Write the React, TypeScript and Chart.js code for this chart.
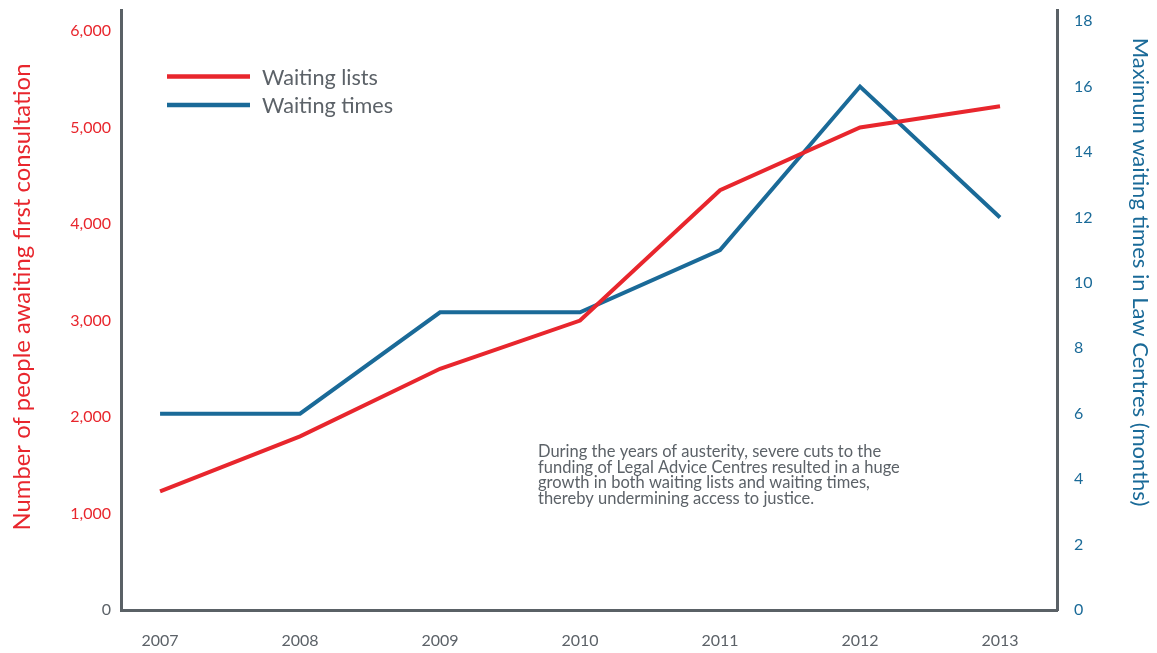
import React, { useEffect, useRef } from "react";
import { Chart, registerables } from "chart.js";

Chart.register(...registerables);

const years = [2007, 2008, 2009, 2010, 2011, 2012, 2013];
const waitingLists = [1230, 1800, 2500, 3000, 4350, 5000, 5220];
const waitingTimes = [6, 6, 9.1, 9.1, 11, 16, 12];
const leftTicks = [0, 1000, 2000, 3000, 4000, 5000, 6000];
const rightTicks = [0, 2, 4, 6, 8, 10, 12, 14, 16, 18];
const seriesNames = ["Waiting lists", "Waiting times"];
const leftTitle = "Number of people awaiting first consultation";
const rightTitle = "Maximum waiting times in Law Centres (months)";
const noteLines = [
  "During the years of austerity, severe cuts to the",
  "funding of Legal Advice Centres resulted in a huge",
  "growth in both waiting lists and waiting times,",
  "thereby undermining access to justice.",
];

const RED = "#e8262d";
const BLUE = "#1a6a98";
const GRAY = "#5c6268";
const AXIS = "#5a6166";
const FAMILY = "Lato, 'Open Sans', sans-serif";

function fitSize(ctx: CanvasRenderingContext2D, text: string, target: number) {
  ctx.font = `100px ${FAMILY}`;
  const w = ctx.measureText(text).width;
  return (100 * target) / w;
}

const overlayPlugin = {
  id: "overlay",
  afterDraw(chart: any) {
    const ctx: CanvasRenderingContext2D = chart.ctx;
    ctx.save();
    let s = fitSize(ctx, leftTitle, 467);
    ctx.font = `${s}px ${FAMILY}`;
    ctx.fillStyle = RED;
    ctx.textAlign = "center";
    ctx.textBaseline = "middle";
    ctx.save();
    ctx.translate(22, 297);
    ctx.rotate(-Math.PI / 2);
    ctx.fillText(leftTitle, 0, 0);
    ctx.restore();

    s = fitSize(ctx, rightTitle, 469);
    ctx.font = `${s}px ${FAMILY}`;
    ctx.fillStyle = BLUE;
    ctx.save();
    ctx.translate(1140, 272);
    ctx.rotate(Math.PI / 2);
    ctx.fillText(rightTitle, 0, 0);
    ctx.restore();

    const colors = [RED, BLUE];
    const ys = [76.5, 105];
    s = fitSize(ctx, seriesNames[0], 116);
    ctx.textAlign = "left";
    ctx.textBaseline = "middle";
    for (let i = 0; i < 2; i++) {
      ctx.strokeStyle = colors[i];
      ctx.lineWidth = 4.5;
      ctx.lineCap = "butt";
      ctx.beginPath();
      ctx.moveTo(167, ys[i]);
      ctx.lineTo(250, ys[i]);
      ctx.stroke();
      ctx.font = `${s}px ${FAMILY}`;
      ctx.fillStyle = GRAY;
      ctx.fillText(seriesNames[i], 262, ys[i] + 1.5);
    }

    s = fitSize(ctx, noteLines[1], 362);
    ctx.font = `${s}px ${FAMILY}`;
    ctx.fillStyle = GRAY;
    ctx.textBaseline = "alphabetic";
    const baselines = [457, 472.5, 488, 503.5];
    noteLines.forEach((t, i) => ctx.fillText(t, 538, baselines[i]));
    ctx.restore();
  },
};

export default function App() {
  const ref = useRef<HTMLCanvasElement | null>(null);
  useEffect(() => {
    if (!ref.current) return;
    const chart = new Chart(ref.current, {
      type: "line",
      data: {
        datasets: [
          {
            label: seriesNames[0],
            data: years.map((y, i) => ({ x: y, y: waitingLists[i] })),
            borderColor: RED,
            backgroundColor: RED,
            borderWidth: 4,
            pointRadius: 0,
            tension: 0,
            borderJoinStyle: "miter",
            yAxisID: "y",
          },
          {
            label: seriesNames[1],
            data: years.map((y, i) => ({ x: y, y: waitingTimes[i] })),
            borderColor: BLUE,
            backgroundColor: BLUE,
            borderWidth: 4,
            pointRadius: 0,
            tension: 0,
            borderJoinStyle: "miter",
            yAxisID: "y1",
          },
        ],
      },
      options: {
        animation: false,
        responsive: true,
        maintainAspectRatio: false,
        layout: { padding: { top: 10, left: 0, right: 0, bottom: 0 } },
        plugins: {
          legend: { display: false },
          tooltip: { enabled: false },
          title: { display: false },
        },
        scales: {
          x: {
            type: "linear",
            min: 2006.721,
            max: 2013.407,
            afterBuildTicks: (sc: any) => {
              sc.ticks = years.map((v) => ({ value: v }));
            },
            afterFit: (sc: any) => {
              sc.height = 43;
              sc.paddingLeft = 0;
              sc.paddingRight = 0;
            },
            ticks: {
              callback: (v: any) => String(v),
              color: GRAY,
              font: { family: FAMILY, size: 16 },
              padding: 21,
              autoSkip: false,
              maxRotation: 0,
            },
            grid: { display: false, drawTicks: false },
            border: { display: true, color: AXIS, width: 3 },
          },
          y: {
            type: "linear",
            position: "left",
            min: 0,
            max: 6218,
            afterBuildTicks: (sc: any) => {
              sc.ticks = leftTicks.map((v) => ({ value: v }));
            },
            afterFit: (sc: any) => {
              sc.width = 121;
              sc.paddingTop = 0;
              sc.paddingBottom = 0;
            },
            ticks: {
              callback: (v: any) => Number(v).toLocaleString("en-US"),
              color: (c: any) => (c.tick && c.tick.value === 0 ? GRAY : RED),
              font: { family: FAMILY, size: 16 },
              padding: 10,
            },
            grid: { display: false, drawTicks: false },
            border: { display: true, color: AXIS, width: 3 },
          },
          y1: {
            type: "linear",
            position: "right",
            min: 0,
            max: 18.34,
            afterBuildTicks: (sc: any) => {
              sc.ticks = rightTicks.map((v) => ({ value: v }));
            },
            afterFit: (sc: any) => {
              sc.width = 100;
              sc.paddingTop = 0;
              sc.paddingBottom = 0;
            },
            ticks: {
              callback: (v: any) => String(v),
              color: BLUE,
              font: { family: FAMILY, size: 16 },
              padding: 17,
            },
            grid: { display: false, drawTicks: false },
            border: { display: true, color: AXIS, width: 3 },
          },
        },
      },
      plugins: [overlayPlugin],
    } as any);
    return () => chart.destroy();
  }, []);
  return (
    <div style={{ position: "absolute", left: 0, top: 0, width: 1157, height: 653, background: "#fff" }}>
      <canvas ref={ref} />
    </div>
  );
}
